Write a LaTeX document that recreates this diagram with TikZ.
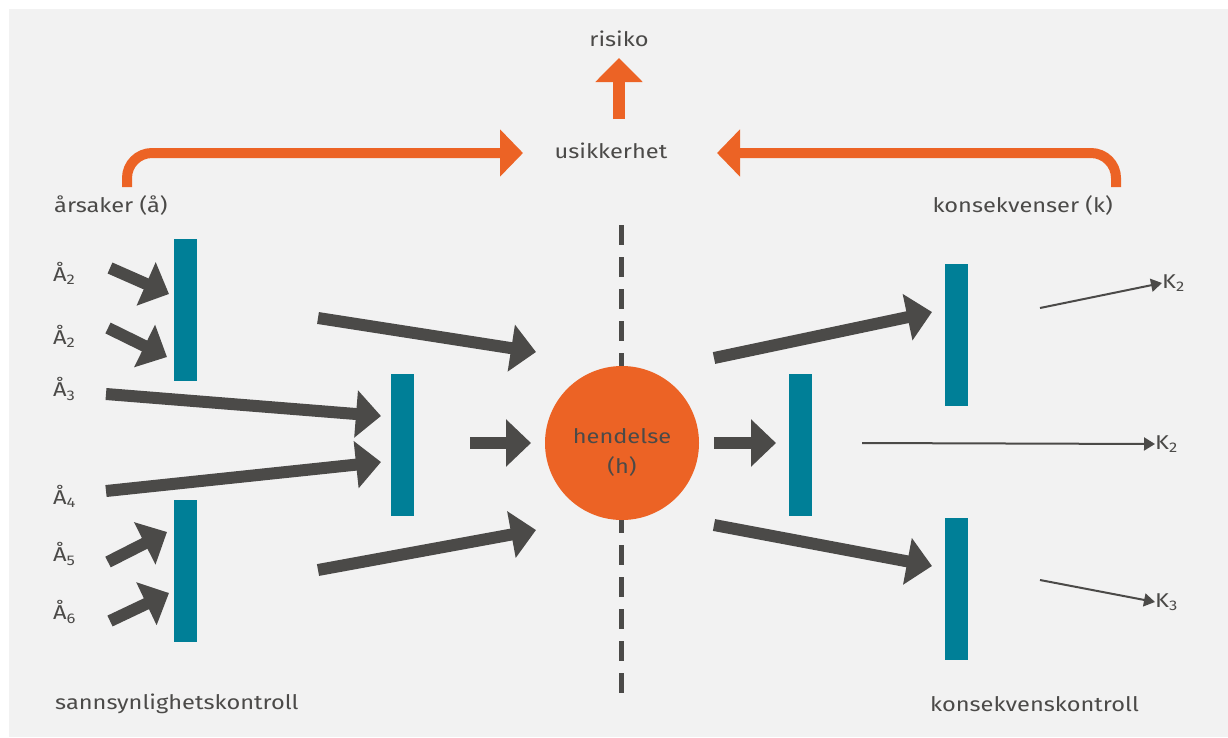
\documentclass[tikz,border=0pt]{standalone}
\usepackage{fontspec}
\setmainfont{Fira Sans}[FakeStretch=1.18]
\usetikzlibrary{arrows.meta}

\definecolor{bgrey}{HTML}{F2F2F2}
\definecolor{dgrey}{HTML}{4B4A48}
\definecolor{rorange}{HTML}{EC6325}
\definecolor{rteal}{HTML}{007F97}

\tikzset{
	lbl/.style = {text = dgrey, font = \fontsize{20}{23}\selectfont, inner sep = 0},
	barrier/.style = {fill = rteal, minimum width = 23, minimum height = 142, inner sep = 0},
	fatarrow/.style = {draw = dgrey, line width = 12, -{Triangle[length=25pt,width=46pt]}},
	thinarrow/.style = {draw = dgrey, line width = 2, -{Triangle[length=11pt,width=13pt]}},
	bendarrow/.style = {draw = rorange, line width = 10, rounded corners = 25, -{Triangle[length=23pt,width=46pt]}}
}

\begin{document}
\begin{tikzpicture}[x=1pt,y=-1pt]
	\useasboundingbox (0,0) rectangle (1228,737);
	\fill [bgrey] (9,9) rectangle (1228,737);

	% top labels
	\node [lbl] (risk) at (619,39) {risiko};
	\node [lbl] (usik) at (611,151) {usikkerhet};
	\node [lbl, anchor = west] (aars) at (54,205) {årsaker (å)};
	\node [lbl, anchor = east] (kons) at (1113,205) {konsekvenser (k)};
	\node [lbl, anchor = west] (pctrl) at (55,704) {sannsynlighetskontroll};
	\node [lbl, anchor = west] (kctrl) at (930,704) {konsekvenskontroll};

	% orange arrows
	\coordinate (up0) at (619,119);
	\coordinate (up1) at (619,58);
	\draw [rorange, line width = 12, -{Triangle[length=24pt,width=46pt]}] (up0) -- (up1);
	\coordinate (lft0) at (127,187);
	\coordinate (lft1) at (523,153);
	\coordinate (rgt0) at (1116,187);
	\coordinate (rgt1) at (717,153);
	\draw [bendarrow] (lft0) |- (lft1);
	\draw [bendarrow] (rgt0) |- (rgt1);

	% dashed axis and event
	\coordinate (ax0) at (621,225);
	\coordinate (ax1) at (621,700);
	\draw [dgrey, line width = 5, dash pattern = on 20pt off 12pt] (ax0) -- (ax1);
	\node [circle, fill = rorange, minimum size = 154, inner sep = 0] (hend) at (622,443) {};
	\node [lbl, align = center] (hlbl) at (622,452) {hendelse\\[7pt](h)};

	% barriers
	\node [barrier] (b1) at (185.5,310) {};
	\node [barrier] (b2) at (185.5,571) {};
	\node [barrier] (b3) at (402.5,445) {};
	\node [barrier] (b4) at (800.5,445) {};
	\node [barrier] (b5) at (956.5,335) {};
	\node [barrier] (b6) at (956.5,589) {};

	% causes
	\node [lbl, anchor = west] (c1) at (53,273) {Å\textsubscript{2}};
	\node [lbl, anchor = west] (c2) at (53,336) {Å\textsubscript{2}};
	\node [lbl, anchor = west] (c3) at (53,389) {Å\textsubscript{3}};
	\node [lbl, anchor = west] (c4) at (53,496) {Å\textsubscript{4}};
	\node [lbl, anchor = west] (c5) at (53,554) {Å\textsubscript{5}};
	\node [lbl, anchor = west] (c6) at (53,612) {Å\textsubscript{6}};

	% consequences
	\node [lbl, anchor = west] (k1) at (1162,283) {K\textsubscript{2}};
	\node [lbl, anchor = west] (k2) at (1155,444) {K\textsubscript{2}};
	\node [lbl, anchor = west] (k3) at (1155,602) {K\textsubscript{3}};

	% thick arrows, left side
	\coordinate (p1) at (110,268);   \coordinate (q1) at (169,294);
	\coordinate (p2) at (108,328);   \coordinate (q2) at (167,357);
	\coordinate (p3) at (106,394);   \coordinate (q3) at (381,416);
	\coordinate (p4) at (106,491);   \coordinate (q4) at (381,462);
	\coordinate (p5) at (108,562);   \coordinate (q5) at (167,532);
	\coordinate (p6) at (110,621);   \coordinate (q6) at (169,593);
	\coordinate (p7) at (318,318);   \coordinate (q7) at (536,352);
	\coordinate (p8) at (318,570);   \coordinate (q8) at (536,530);
	\coordinate (p9) at (470,443);   \coordinate (q9) at (531,443);
	\foreach \i in {1,...,9}
		\draw [fatarrow] (p\i) -- (q\i);

	% thick arrows, right side
	\coordinate (r1) at (714,443);   \coordinate (s1) at (776,443);
	\coordinate (r2) at (714,358);   \coordinate (s2) at (932,312);
	\coordinate (r3) at (714,525);   \coordinate (s3) at (932,566);
	\foreach \i in {1,2,3}
		\draw [fatarrow] (r\i) -- (s\i);

	% thin arrows
	\coordinate (t1) at (1040,308);
	\coordinate (t2) at (862,443);
	\coordinate (t3) at (1040,580);
	\draw [thinarrow] (t1) -- (k1.west);
	\draw [thinarrow] (t2) -- (k2.west);
	\draw [thinarrow] (t3) -- (k3.west);
\end{tikzpicture}
\end{document}
